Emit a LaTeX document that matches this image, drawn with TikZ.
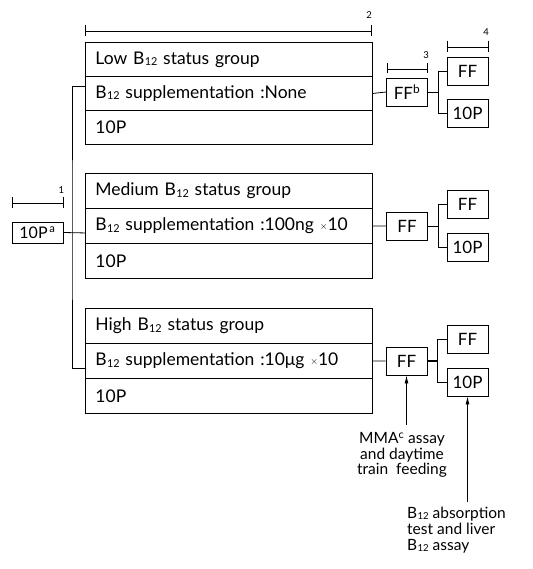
\documentclass[tikz,border=0pt]{standalone}
\usepackage{fontspec}
\setmainfont{Lato}
\usetikzlibrary{calc,arrows.meta}
\newcommand{\Btw}{B\kern0.3pt\raisebox{-0.15ex}{\fontsize{0.62em}{1em}\selectfont 12}}
\newcommand{\tms}{\raisebox{0.2ex}{\fontsize{0.55em}{1em}\selectfont$\times$}}
\begin{document}
\begin{tikzpicture}[x=1pt,y=-1pt,
  row/.style={draw, line width=0.9pt, rectangle, anchor=north west, minimum width=287pt,
    inner xsep=10pt, text width=267pt, align=left, font=\fontsize{17.5}{19}\selectfont},
  sbox/.style={draw, line width=0.9pt, minimum width=41pt, minimum height=28pt, inner sep=0pt,
    font=\fontsize{17}{18}\selectfont},
  link/.style={line width=0.8pt},
  dimline/.style={line width=0.8pt},
  dimlab/.style={font=\fontsize{9.5}{10}\selectfont, inner sep=1pt},
  note/.style={font=\fontsize{15.5}{15.7}\selectfont, inner sep=0pt},
  arr/.style={line width=0.8pt, -{Latex[length=8pt,width=4pt]}}
]
\useasboundingbox (0,0) rectangle (532,569);

% group boxes
\node[row, minimum height=34pt] (a1) at (85,42) {Low \Btw{} status group};
\node[row, minimum height=34pt] (a2) at (85,76) {\Btw{} supplementation :None};
\node[row, minimum height=34pt] (a3) at (85,110) {10P};

\node[row, minimum height=35pt] (b1) at (85,173) {Medium \Btw{} status group};
\node[row, minimum height=35pt] (b2) at (85,208) {\Btw{} supplementation :100ng \tms10};
\node[row, minimum height=35pt] (b3) at (85,243) {10P};

\node[row, minimum height=35pt] (c1) at (85,308) {High \Btw{} status group};
\node[row, minimum height=35pt] (c2) at (85,343) {\Btw{} supplementation :10μg \tms10};
\node[row, minimum height=35pt] (c3) at (85,378) {10P};

% start box
\node[draw, line width=0.9pt, minimum width=51pt, minimum height=21pt, inner sep=0pt,
  font=\fontsize{16}{17}\selectfont] (p0) at (37.5,232.5) {10P\textsuperscript{\,a}};

% FF boxes
\node[sbox] (f1) at (407,92) {FF\textsuperscript{b}};
\node[sbox] (f2) at (407,226) {FF};
\node[sbox] (f3) at (406.5,361) {FF};

% final boxes
\node[sbox] (g1) at (467.5,71) {FF};
\node[sbox] (h1) at (467.5,113.5) {10P};
\node[sbox] (g2) at (467.5,204) {FF};
\node[sbox] (h2) at (467.5,247) {10P};
\node[sbox] (g3) at (467.5,339) {FF};
\node[sbox] (h3) at (467.5,382) {10P};

% trunk
\coordinate (tk) at (72,232.5);
\draw[link] (p0.east) -- ($(b2.west)+(0,7)$);
\draw[link] ($(a2.west)+(0,-7)$) -| (tk) |- ($(c2.west)+(0,7.5)$);

% group -> FF
\draw[link] (a2.east) -- (f1.west);
\draw[link] (b2.east) -- (f2.west);
\draw[link] (c2.east) -- (f3.west);

% forks
\foreach \f/\g/\h in {f1/g1/h1, f2/g2/h2, f3/g3/h3}{
  \coordinate (fk) at ($(\f.east)+(10,0)$);
  \draw[link] (\f.east) -- (fk);
  \draw[link] (\g.west) -| (fk) |- (\h.west);
}
\draw[line width=1.8pt] (f3.east) -- ++(10,0);

% dimension brackets
\draw[dimline] (12,203) -- (63,203);
\draw[dimline] (12,197) -- (12,208);
\draw[dimline] (63,197) -- (63,208);
\node[dimlab] (d1) at (61.5,190) {1};

\draw[dimline] (85,31) -- (371,31);
\draw[dimline] (85,25) -- (85,36);
\draw[dimline] (371,25) -- (371,36);
\node[dimlab] (d2) at (369,15) {2};

\draw[dimline] (387,69) -- (427,69);
\draw[dimline] (387,63) -- (387,73);
\draw[dimline] (427,63) -- (427,73);
\node[dimlab] (d3) at (426,55) {3};

\draw[dimline] (447,47) -- (488,47);
\draw[dimline] (447,41) -- (447,52);
\draw[dimline] (488,41) -- (488,52);
\node[dimlab] (d4) at (486,32) {4};

% notes
\node[note, align=center, anchor=north] (n1) at (402,432)
  {MMA\textsuperscript{c} assay\\and daytime\\train\ \ feeding};
\node[note, align=left, anchor=north west] (n2) at (407,507)
  {\Btw{} absorption\\test and liver\\\Btw{} assay};

\draw[arr] (f3.south |- n1.north) ++(0,-7) -- (f3.south);
\draw[arr] (h3.south |- n2.north) ++(0,-5) -- (h3.south);
\end{tikzpicture}
\end{document}
